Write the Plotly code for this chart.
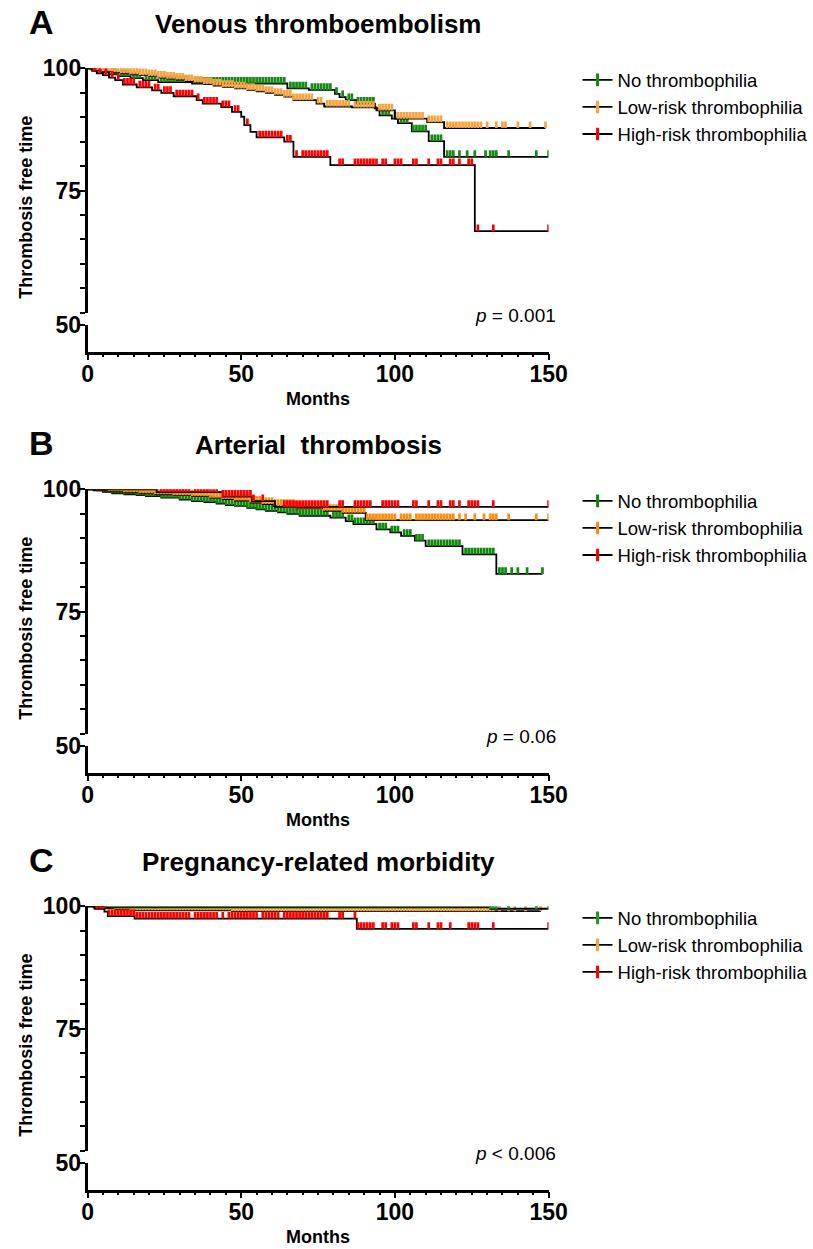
import numpy as np
import plotly.graph_objects as go

W, H = 813, 1249
FONT = "Arial, Liberation Sans, sans-serif"

GROUPS = ["No thrombophilia", "Low-risk thrombophilia", "High-risk thrombophilia"]
PANEL_COLORS = [
    ["#138a13", "#f9a33f", "#ff0000"],
    ["#0b8a0b", "#ff8c10", "#ff0000"],
    ["#1f9e1f", "#f7a33f", "#ff0000"],
]
DRAW_ORDER = [[0, 1, 2], [0, 1, 2], [1, 0, 2]]

PANEL_LETTERS = ["A", "B", "C"]
PANEL_TITLES = ["Venous thromboembolism", "Arterial\u00a0 thrombosis", "Pregnancy-related morbidity"]
P_TEXTS = ["<i>p</i> = 0.001", "<i>p</i> = 0.06", "<i>p</i> &lt; 0.006"]
X_TICKS = [0, 50, 100, 150]
Y_TICKS = [75, 100]
Y_BREAK_TICKS = [50]
X_TITLE = "Months"
Y_TITLE = "Thrombosis free time"

# ---------------- Panel A: venous thromboembolism ----------------
vte_none_t = [0, 2, 4, 7, 10, 14, 18, 23, 34, 65, 72, 80.5, 82, 84, 87.5, 93.5, 95, 99, 101, 105.5, 111, 116]
vte_none_s = [100, 99.6, 99.2, 98.8, 98.4, 98.0, 97.6, 97.2, 96.9, 95.9, 95.6, 94.8, 94.1, 93.5, 92.8, 91.8, 90.4, 89.7, 88.8, 87.1, 85.1, 81.9]
vte_none_c = [1, 3, 5, 6, 8, 9, 11, 12, 13, 15, 16, 17, 19, 20, 21, 22, 24, 25, 26, 27, 28, 29, 30, 31, 32, 33,
              35, 36, 37, 38, 39, 40, 41, 42, 43, 44, 45, 46, 47, 48, 49, 50, 51, 52, 53, 54, 55, 56, 57, 58, 59,
              60, 61, 62, 63, 64, 66, 67, 68, 69, 70, 71, 73, 74, 75, 76, 77, 78, 79, 81, 83, 85, 86, 88, 89, 90,
              91, 92, 93, 96, 97, 98, 100, 102, 103, 104, 106, 107, 108, 109, 110, 112, 113, 114, 115, 117, 118,
              119, 121, 123.5, 126, 129.5, 131, 132, 133, 137, 146, 150]

vte_low_t = [0, 1, 3, 5, 8, 11, 14, 17, 20, 23, 26, 29, 32, 35, 38, 41, 44, 48, 52, 55, 58, 61, 64, 67, 74.5, 77, 86, 94, 100, 110.5, 116]
vte_low_s = [100, 99.8, 99.6, 99.4, 99.2, 99.0, 98.8, 98.6, 98.4, 98.1, 97.9, 97.7, 97.4, 97.1, 96.8, 96.5, 96.2, 95.9, 95.6, 95.3, 95.0, 94.6, 94.2, 93.5, 92.8, 92.2, 92.0, 91.4, 89.7, 89.0, 87.8]
vte_low_c = [1, 2, 3, 4, 5, 6, 7, 8, 9, 10, 11, 12, 13, 14, 15, 16, 17, 18, 19, 20, 21, 22, 23, 24, 25, 26, 27,
             28, 29, 30, 31, 32, 33, 34, 35, 36, 37, 38, 39, 40, 41, 42, 43, 44, 45, 46, 47, 48, 49, 50, 51, 52,
             53, 54, 55, 56, 57, 58, 59, 60, 61, 62, 63, 64, 65, 66, 67, 68, 69, 70, 71, 72, 73, 75, 76, 78, 79,
             80, 81, 82, 83, 84, 85, 87, 88, 89, 90, 91, 92, 93, 95, 96, 97, 98, 99, 101, 102, 103, 104, 105, 106,
             107, 108, 109, 111, 112, 113, 114, 115, 117, 118, 119, 120, 121, 122, 123, 124, 125, 126, 127, 128,
             130, 133, 135, 136, 140, 144, 149]

vte_high_t = [0, 1.5, 3, 5, 7, 9, 11.5, 16, 21, 24, 28, 35.5, 37.5, 43.5, 47, 50, 51, 53, 55, 64, 67, 79, 126]
vte_high_s = [100, 99.5, 99.0, 98.6, 98.1, 97.6, 96.7, 96.1, 95.5, 95.0, 94.3, 93.5, 92.8, 92.1, 91.1, 90.1, 88.4, 87.0, 85.9, 85.0, 81.9, 80.2, 66.7]
vte_high_c = [1, 2, 2.5, 4, 6, 8, 10, 12, 13, 14, 15, 17, 18, 19, 20, 22, 23, 25, 26, 27, 29, 30, 31, 32, 33, 34,
              36, 38, 39, 40, 41, 42, 44, 45, 46, 48, 49, 52, 56, 57, 58, 59, 60, 61, 62, 63, 65, 66, 68, 70, 71,
              72, 73, 74, 75, 76, 77, 78, 82, 83, 87, 88, 89, 90, 91, 92, 93, 94, 96, 97, 100, 101, 102, 106, 107,
              111, 114, 115, 118, 119, 121, 124, 125, 127, 132, 150]

# ---------------- Panel B: arterial thrombosis ----------------
art_none_t = [0, 2, 5, 8, 12, 16, 19, 24, 30, 34, 38, 42, 45, 48, 52, 55, 58, 62, 65, 69, 79, 84, 86.5, 94, 98.5, 102, 106.5, 110, 122, 133]
art_none_s = [100, 99.8, 99.5, 99.2, 99.0, 98.8, 98.6, 98.3, 97.9, 97.6, 97.4, 97.1, 96.8, 96.6, 96.2, 95.9, 95.6, 95.3, 95.0, 94.6, 94.2, 93.5, 92.9, 91.8, 91.2, 90.5, 89.5, 88.4, 86.7, 82.7]
art_none_c = [1, 2, 3, 4, 5, 6, 7, 8, 9, 10, 11, 12, 13, 14, 15, 16, 17, 18, 19, 20, 21, 22, 23, 24, 25, 26, 27,
              28, 29, 30, 31, 32, 33, 34, 35, 36, 37, 38, 39, 40, 41, 42, 43, 44, 45, 46, 47, 48, 49, 50, 51, 52,
              53, 54, 55, 56, 57, 58, 59, 60, 61, 62, 63, 64, 65, 66, 67, 68, 69, 70, 71, 72, 73, 74, 75, 76, 77,
              78, 80, 81, 82, 83, 85, 86, 87, 88, 89, 90, 91, 92, 93, 95, 96, 97, 99, 100, 101, 103, 104, 105, 107,
              108, 109, 111, 112, 113, 114, 115, 116, 117, 118, 119, 120, 121, 123, 124, 125, 126, 127, 128, 129,
              130, 131, 132, 134, 135, 136, 138, 140, 143, 148]

art_low_t = [0, 3, 7, 12, 17, 22, 28, 34, 40, 44, 48, 53, 57, 60.5, 68, 77, 83, 90.5]
art_low_s = [100, 99.8, 99.6, 99.4, 99.2, 99.0, 98.8, 98.6, 98.3, 98.0, 97.7, 97.3, 97.0, 96.6, 96.1, 95.6, 95.2, 93.7]
art_low_c = [1, 2, 3, 4, 5, 6, 7, 8, 9, 10, 11, 12, 13, 14, 15, 16, 17, 18, 19, 20, 21, 22, 23, 24, 25, 26, 27,
             28, 29, 30, 31, 32, 33, 34, 35, 36, 37, 38, 39, 40, 41, 42, 43, 44, 45, 46, 47, 48, 49, 50, 51, 52,
             53, 54, 55, 56, 57, 58, 59, 60, 61, 62, 63, 64, 65, 66, 67, 68, 69, 70, 71, 72, 73, 74, 75, 76, 77,
             78, 79, 80, 81, 82, 83, 84, 85, 86, 87, 88, 89, 90, 91, 92, 93, 94, 95, 96, 97, 98, 99, 100, 102,
             103, 104, 105, 107, 108, 109, 110, 111, 112, 113, 114, 115, 116, 117, 118, 119, 121, 123, 126, 129,
             131, 132, 133, 137, 146, 150]

art_high_t = [0, 22.5, 44, 53.5, 61]
art_high_s = [100, 99.45, 98.5, 97.6, 96.4]
art_high_c = [1, 2, 3, 4, 5, 6, 7, 8, 9, 10, 11, 12, 13, 14, 15, 16, 17, 18, 19, 20, 21, 22, 24, 25, 26, 27, 28,
              29, 30, 31, 32, 33, 35, 36, 37, 38, 39, 40, 41, 42, 44, 45, 46, 47, 48, 49, 50, 51, 52, 53, 54, 57,
              64, 65, 66, 67, 68, 69, 70, 71, 72, 73, 74, 75, 76, 77, 78, 82, 83, 87, 88, 89, 90, 91, 92, 96, 97,
              98, 99, 100, 101, 106, 107, 111, 114, 115, 118, 119, 121, 124, 125, 126, 127, 132, 150]

# ---------------- Panel C: pregnancy-related morbidity ----------------
preg_none_t = [0, 6, 131]
preg_none_s = [100, 99.8, 99.5]
preg_none_c = [2, 4, 6, 8, 9, 10, 11, 12, 13, 14, 15, 16, 17, 18, 19, 20, 21, 23, 24, 25, 26, 27, 28, 29, 30, 31,
               32, 33, 34, 35, 36, 37, 38, 39, 40, 41, 42, 43, 44, 45, 46, 47, 48, 49, 50, 51, 52, 53, 54, 55, 56,
               57, 58, 59, 60, 61, 62, 63, 64, 65, 66, 67, 68, 69, 70, 71, 72, 73, 74, 75, 76, 77, 78, 79, 80, 81,
               82, 83, 84, 85, 86, 87, 88, 89, 90, 91, 92, 93, 94, 95, 96, 97, 98, 99, 100, 102, 103, 104, 105, 107,
               108, 109, 110, 111, 112, 113, 114, 115, 116, 117, 118, 119, 121, 123, 126, 129, 131, 132, 133, 137,
               146, 150]

preg_low_t = [0, 2, 5, 9, 14, 47]
preg_low_s = [100, 99.8, 99.6, 99.4, 99.2, 99.0]
preg_low_c = [1, 2, 3, 4, 5, 6, 7, 8, 9, 10, 11, 12, 13, 14, 15, 16, 17, 18, 19, 20, 21, 22, 23, 24, 25, 26, 27,
              28, 29, 30, 31, 32, 33, 34, 35, 36, 37, 38, 39, 40, 41, 42, 43, 44, 45, 46, 47, 48, 49, 50, 51, 52,
              53, 54, 55, 56, 57, 58, 59, 60, 61, 62, 63, 64, 65, 66, 67, 68, 69, 70, 71, 72, 73, 74, 75, 76, 77,
              78, 79, 80, 81, 82, 83, 84, 85, 86, 87, 88, 89, 90, 91, 92, 93, 94, 95, 96, 97, 98, 99, 100, 101,
              102, 103, 104, 105, 106, 107, 108, 109, 110, 111, 112, 113, 114, 115, 116, 117, 118, 119, 120, 121,
              122, 123, 124, 125, 126, 127, 128, 129, 130, 131, 132, 134, 137, 139, 142.5, 147.5]

preg_high_t = [0, 2.3, 5.5, 6.6, 15.3, 87.6]
preg_high_s = [100, 99.5, 98.9, 98.0, 97.5, 95.4]
preg_high_c = [3, 4, 5, 7, 8, 9, 10, 11, 12, 13, 14, 15, 16, 17, 18, 19, 20, 21, 22, 23, 24, 25, 26, 27, 28, 29,
               30, 31, 32, 33, 35, 36, 37, 38, 39, 40, 41, 42, 44, 46, 47, 48, 49, 50, 51, 52, 53, 54, 55, 57, 58,
               59, 60, 61, 62, 64, 65, 66, 67, 68, 69, 70, 71, 72, 73, 74, 75, 76, 77, 78, 82, 83, 87, 88, 89, 90,
               91, 92, 93, 96, 97, 99, 100, 101, 106, 107, 111, 114, 115, 118, 124, 125, 126, 127, 132, 150]

PANEL_DATA = [
    [(vte_none_t, vte_none_s, vte_none_c), (vte_low_t, vte_low_s, vte_low_c), (vte_high_t, vte_high_s, vte_high_c)],
    [(art_none_t, art_none_s, art_none_c), (art_low_t, art_low_s, art_low_c), (art_high_t, art_high_s, art_high_c)],
    [(preg_none_t, preg_none_s, preg_none_c), (preg_low_t, preg_low_s, preg_low_c), (preg_high_t, preg_high_s, preg_high_c)],
]

# ---------------- geometry ----------------
# target positions are measured in picture pixels; the photographed page was
# observed to map page px -> picture px as  pic = OX + SX * page  (same for y)
SX, OX = 0.97, 5.3
SY, OY = 0.992, 12.5


def px_x(p):
    return (p - OX) / SX


def px_y(p):
    return (p - OY) / SY


OFFSETS = [0, 422, 840]
X_LEFT, X_RIGHT = 87, 549
Y_TOP, Y_BREAK, Y_LOW, Y_AXIS = 68, 313, 325, 352
MARK_H = 1.35          # censor tick height, in % units
LINE_W = 1.8


def fx(p):
    return px_x(p) / W


def fy(p):
    return 1 - px_y(p) / H


def step_at(t, s, x):
    t = np.asarray(t, float)
    s = np.asarray(s, float)
    idx = np.searchsorted(t, np.asarray(x, float), side="right") - 1
    return s[np.clip(idx, 0, len(s) - 1)]


fig = go.Figure()
layout = dict(
    width=W, height=H, margin=dict(l=0, r=0, t=0, b=0),
    paper_bgcolor="white", plot_bgcolor="white", showlegend=True,
    font=dict(family=FONT, color="black"),
)
annotations = []

axis_common = dict(showline=True, linecolor="black", linewidth=2.5, ticks="outside",
                   tickcolor="black", tickwidth=2, showgrid=False, zeroline=False,
                   tickfont=dict(family=FONT, size=23, color="black", weight="bold"))

for i in range(3):
    o = OFFSETS[i]
    colors = PANEL_COLORS[i]
    xname = "x" if i == 0 else f"x{i + 1}"
    yu_n, yl_n = 2 * i + 1, 2 * i + 2
    yu = "y" if yu_n == 1 else f"y{yu_n}"
    yl = f"y{yl_n}"
    lg = "legend" if i == 0 else f"legend{i + 1}"

    layout["xaxis" if i == 0 else f"xaxis{i + 1}"] = dict(
        axis_common, domain=[fx(X_LEFT), fx(X_RIGHT)], range=[0, 150], anchor=yl,
        tickvals=X_TICKS, ticklen=6, ticklabelstandoff=-6,
        minor=dict(dtick=5, tick0=0, ticks="outside", ticklen=3, tickwidth=2, tickcolor="black", showgrid=False))
    layout["yaxis" if yu_n == 1 else f"yaxis{yu_n}"] = dict(
        axis_common, domain=[fy(Y_BREAK + o), fy(Y_TOP + o)], range=[50, 100], anchor=xname,
        tickvals=Y_TICKS, ticklen=6, ticklabelstandoff=-7,
        minor=dict(dtick=5, tick0=50, ticks="outside", ticklen=5, tickwidth=2, tickcolor="black", showgrid=False))
    layout[f"yaxis{yl_n}"] = dict(
        axis_common, domain=[fy(Y_AXIS + o), fy(Y_LOW + o)], range=[44.5, 50], anchor=xname,
        tickvals=Y_BREAK_TICKS, ticklen=6, ticklabelstandoff=-7)

    # placeholder so the lower axis segment is drawn
    fig.add_trace(go.Scatter(x=[None], y=[None], xaxis=xname, yaxis=yl, showlegend=False, hoverinfo="skip"))

    for g in DRAW_ORDER[i]:
        t, s, c = PANEL_DATA[i][g]
        col = colors[g]
        t_end = max(max(c), t[-1])
        fig.add_trace(go.Scatter(
            x=list(t) + [t_end], y=list(s) + [s[-1]], mode="lines",
            line=dict(color="black", width=LINE_W, shape="hv"),
            xaxis=xname, yaxis=yu, showlegend=False, hoverinfo="skip"))
        cy = step_at(t, s, c)
        fig.add_trace(go.Scatter(
            x=c, y=cy, mode="markers", marker=dict(size=1, color="rgba(0,0,0,0)"),
            error_y=dict(type="data", symmetric=False, array=[MARK_H] * len(c), arrayminus=[0] * len(c),
                         color=col, thickness=2.7, width=0),
            cliponaxis=False, xaxis=xname, yaxis=yu, showlegend=False, hoverinfo="skip"))

    for g in range(3):
        col = colors[g]
        # legend entry
        fig.add_trace(go.Scatter(
            x=[None], y=[None], mode="lines+markers", name=GROUPS[g],
            line=dict(color="black", width=LINE_W),
            marker=dict(symbol="line-ns", size=9, color=col, line=dict(color=col, width=3)),
            xaxis=xname, yaxis=yu, legend=lg, legendgroup=f"{i}-{g}"))

    layout[lg] = dict(x=fx(578), y=fy(61 + o), xanchor="left", yanchor="top",
                      font=dict(family=FONT, size=18.5, color="black"), bgcolor="rgba(0,0,0,0)",
                      borderwidth=0, tracegroupgap=0)

    annotations += [
        dict(text=PANEL_LETTERS[i], x=fx(41), y=fy(22 + o), xref="paper", yref="paper", showarrow=False,
             xanchor="center", yanchor="middle", font=dict(family=FONT, size=34, color="black", weight="bold")),
        dict(text=PANEL_TITLES[i], x=fx(318), y=fy(24 + o), xref="paper", yref="paper", showarrow=False,
             xanchor="center", yanchor="middle", font=dict(family=FONT, size=26, color="black", weight="bold")),
        dict(text=Y_TITLE, x=fx(25), y=fy(207 + o), xref="paper", yref="paper", showarrow=False, textangle=-90,
             xanchor="center", yanchor="middle", font=dict(family=FONT, size=18, color="black", weight="bold")),
        dict(text=X_TITLE, x=fx(318), y=fy(399 + o), xref="paper", yref="paper", showarrow=False,
             xanchor="center", yanchor="middle", font=dict(family=FONT, size=18, color="black", weight="bold")),
        dict(text=P_TEXTS[i], x=fx(558), y=fy(316 + o), xref="paper", yref="paper", showarrow=False,
             xanchor="right", yanchor="middle", font=dict(family=FONT, size=19, color="black")),
    ]

layout["annotations"] = annotations
fig.update_layout(**layout)
fig.write_html(
    "out.html",
    config={"displayModeBar": False},
    post_script="document.documentElement.style.margin='0px';document.body.style.margin='0px';"
                "document.documentElement.style.overflow='hidden';document.body.style.overflow='hidden';",
)
